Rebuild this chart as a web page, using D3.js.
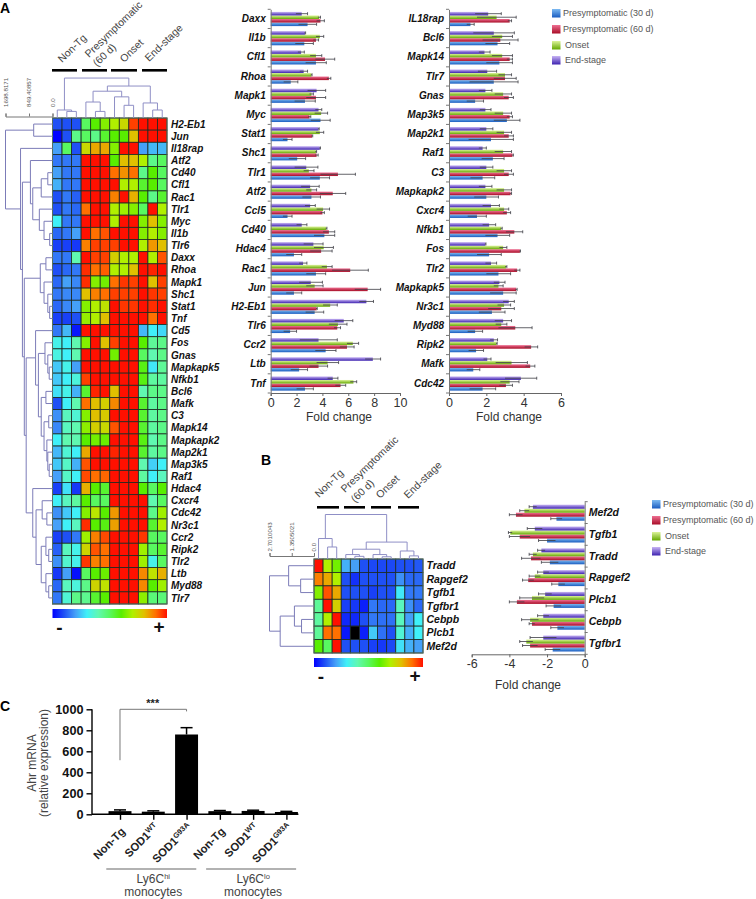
<!DOCTYPE html>
<html><head><meta charset="utf-8">
<script src="https://cdn.jsdelivr.net/npm/d3@7"></script>
<style>html,body{margin:0;padding:0;background:#fff}svg{display:block}text{font-family:"Liberation Sans",Arial,sans-serif}</style>
</head><body><svg id="c" width="756" height="899"></svg>
<script>
// ---------- DATA ----------
const seriesNames=["Presymptomatic (30 d)","Presymptomatic (60 d)","Onset","End-stage"];
const seriesTop=["#7dbaf2","#ee6f92","#dcf39a","#c8b4f4"];
const seriesBottom=["#1a5cc0","#a80c26","#64a800","#3d22b0"];
const heatStops=[0,1,2,3,4,5,6,7,8,9,10];
const heatColors=["#0000ff","#1f50f5","#45a0f8","#40f0f8","#60f8b0","#58f860","#58ee00","#b0f000","#e0c000","#ff7000","#ff1000"];

const groupLabels=["Non-Tg","Presymptomatic","(60 d)","Onset","End-stage"];

const heatGenesA=["H2-Eb1","Jun","Il18rap","Atf2","Cd40","Cfl1","Rac1","Tlr1","Myc","Il1b","Tlr6","Daxx","Rhoa","Mapk1","Shc1","Stat1","Tnf","Cd5","Fos","Gnas","Mapkapk5","Nfkb1","Bcl6","Mafk","C3","Mapk14","Mapkapk2","Map2k1","Map3k5","Raf1","Hdac4","Cxcr4","Cdc42","Nr3c1","Ccr2","Ripk2","Tlr2","Ltb","Myd88","Tlr7"];
const heatA=[
[1,1,1,5,6,6.5,7,7.5,9.5,10,10,10],
[0,1,4.5,5,4.5,5.5,6,6,8,10,10,10],
[2,5,1,7.5,8.3,8.3,6.5,10,10,2,2.3,2.3],
[1.5,1.5,1.5,10,10,10,6,8,8,7,4.5,5],
[2,1.5,1.5,10,10,10,9,8.6,9,4.5,6,5],
[2.2,1.5,1.5,10,10,10,10,7,7,5.5,6,5],
[1,1.5,1.2,10,10,10,8.8,10,8.2,6,4.5,5.5],
[1,1.5,1.3,9,10,10,7,6.8,6.5,5,10,7],
[3,1.5,1.5,10,10,10,7,10,10,6.5,8,6.5],
[1.3,1.5,2,10,9,9.3,10,10,10,6.5,7,6.5],
[0.8,0.8,0.7,8.8,9.5,9.5,9.5,10,10,7,8.5,8],
[1.5,1.5,4,10,9.5,9.5,7.7,7,7,10,7,9.3],
[1,1.3,1.5,9.7,9,9.2,7,7,8,10,9.8,10],
[1.3,2,1.7,9.7,6.5,6.3,9,9.6,9.5,10,8,9.5],
[1.5,1.7,1.7,8,8.8,9,9.5,9.5,9.5,10,9.6,9.5],
[1.3,1.7,2,6.5,7,7.3,10,9.6,9.6,10,9.7,10],
[0.8,0.8,1,6.7,7,8,10,10,10,10,9,10],
[1.5,2.3,0.3,10,10,10,10,10,10,2.3,3,2.7],
[3.2,3,4,6.5,10,8,9.5,10,10,6,4.3,4.5],
[3.3,3,4,10,10,10,6.3,10,10,5,4,4.5],
[2.5,3.2,2,10,10,10,10,10,10,5.8,2.9,4.3],
[2.5,3,3.4,9.5,10,10,10,10,10,5.8,4.2,4.2],
[2.8,3.2,2.2,5.5,9.8,10,8,10,10,4,4.5,4.5],
[1,3,4,9,8,7.7,8.7,10,10,5.5,4.2,4.5],
[1.8,3.8,3.5,6.5,8,7.8,10,10,10,5.5,4.2,4.5],
[1.7,3.8,4,6.6,7.7,7.5,9.3,10,10,5.5,4.2,4.5],
[3,4,4,6,6.3,6.2,10,10,10,5.8,4,4.5],
[2.3,3.5,3,8.3,10,10,9.8,10,10,5.5,4.2,4.5],
[2.5,3.7,2.2,9.3,10,10,10,10,10,4,2.6,3],
[2,3.7,3,9.4,9,9.1,10,10,10,4.2,3,3.8],
[0.8,2.8,0.7,8.2,6,5.5,10,10,10,6,5,6],
[3,3.8,4.2,6,5,5,10,10,10,10,4,5],
[1.8,2.5,3,6.5,7.2,6,8.5,10,10,10,4.5,6.8],
[2,3,3.8,9.7,6,5.8,8.4,10,10,10,5.5,7],
[0.8,1,1.5,6.8,8.8,9.4,10,10,10,9.6,5,5],
[1.2,3.8,3.2,7.6,9.3,9,10,10,10,6.8,5,5.5],
[1.8,3.6,3.2,9.6,8.8,9,10,10,10,6.8,3.2,5],
[0.7,2,0.2,5,6,6.2,10,10,10,8.7,7.3,8.2],
[1.3,3.8,3.4,4.5,7.6,7.3,10,10,10,8.7,6,6.8],
[1.5,3.5,4.5,4.4,5.5,6,10,10,10,6.6,4.7,4.7]];
// dendrograms: [height % of the scale, left, right]; integers are leaves
const colTreeA=[85,[17,0,[14,1,2]],[68,[57,[34,3,[14,4,5]],[45,6,[27,7,8]]],[32,9,[17,10,11]]]];
const rowTreeA=[100,[40,0,1],[68,2,[64,
  [47,3,[42,[24,[10,4,5],6],[28,7,[18,8,[6,9,10]]]]],
  [60,[26,[14,11,12],[18,13,[10,14,[6,15,16]]]],
    [56,[36,17,[30,[16,18,[10,19,[7,20,21]]],[24,[14,22,23],[18,[8,24,25],[12,26,[10,27,[7,28,29]]]]]]],
        [42,30,[35,[22,31,[12,32,33]],[24,[14,34,[8,35,36]],[14,37,[8,38,39]]]]]]]]]];
const axisTicksA=[1698.8171,849.40857,0];
const axisLabelsA=["1698.8171","849.40857","0.0"];

const heatGenesB=["Tradd","Rapgef2","Tgfb1","Tgfbr1","Cebpb","Plcb1","Mef2d"];
const heatB=[
[10,7,6.3,2.2,2,1,0.9,0.9,0.9,1,1,1.1],
[8.8,8.3,7,1,0.6,1,1,1,1,1.8,1.3,1.3],
[6.5,9.3,8.3,1,1,1,0.8,1,1,2.9,1.5,1.5],
[4.3,10,7.7,0.8,0.7,0.4,1.5,1.3,1.3,3.8,1.8,1.3],
[4.2,7,10,0.5,0.5,1,1.5,1.4,1.4,3.8,2,3],
[4.3,9,9,0.3,null,0.4,2.5,1.4,1,3.5,2.2,3],
[6,5,10,1,1,1,0.8,0.7,0.9,2.8,2.2,2]];
const colTreeB=[100,[46,0,[27,1,2]],[38,[22,[10,3,[6,4,5]],[10,6,[5,7,8]]],[18,9,[7,10,11]]]];
const rowTreeB=[100,[57,0,[30,1,2]],[76,[44,3,[28,4,5]],6]];
const axisTicksB=[2.7010043,1.3505021,0];
const axisLabelsB=["2.7010043","1.3505021","0.0"];

const genes1=["Daxx","Il1b","Cfl1","Rhoa","Mapk1","Myc","Stat1","Shc1","Tlr1","Atf2","Ccl5","Cd40","Hdac4","Rac1","Jun","H2-Eb1","Tlr6","Ccr2","Ltb","Tnf"];
const v1d30=[2.85,2.6,3.5,1.55,2.65,3.85,1.3,2.05,3.8,3.15,1.3,4.15,1.8,3.5,1.8,3.4,1.5,4.25,2.2,2.65];
const e1d30=[0.7,0.7,0.8,0.55,0.8,0.75,0.35,0.65,0.75,0.7,0.35,0.8,0.6,0.75,0.6,0.7,0.5,0.8,0.65,0.65];
const v1d60=[3.85,3.5,4.2,4.5,3.5,3.0,3.2,3.55,5.2,4.8,4.0,4.5,3.9,6.15,7.5,3.55,5.15,5.9,3.7,5.4];
const e1d60=[0.3,0.2,0.75,0.15,0.75,0.1,0.05,0.12,1.35,1.0,0.15,0.45,0.85,1.4,1.0,0.05,0.25,0.55,0.7,0.4];
const v1on=[3.75,3.8,3.5,3.15,3.15,3.9,3.8,3.5,2.95,3.15,4.05,4.3,4.1,4.35,3.4,4.6,5.2,6.35,4.4,6.4];
const e1on=[0.1,0.3,0.45,0.05,0.15,0.5,0.3,0.05,0.4,0.4,0.5,0.05,0.75,0.4,0.65,0.55,0.7,0.45,0.85,0.25];
const v1end=[2.4,2.65,2.35,2.55,3.55,3.7,3.7,3.8,2.75,3.05,3.05,2.4,3.3,2.5,3.1,7.4,5.65,3.7,7.9,4.8];
const e1end=[0.45,0.05,0.25,0.3,0.7,0.25,0.05,0.05,0.9,0.7,0.4,0.4,0.75,0.3,0.9,0.55,0.7,1.45,0.6,0.4];

const genes2=["IL18rap","Bcl6","Mapk14","Tlr7","Gnas","Map3k5","Map2k1","Raf1","C3","Mapkapk2","Cxcr4","Nfkb1","Fos","Tlr2","Mapkapk5","Nr3c1","Myd88","Ripk2","Mafk","Cdc42"];
const v2d30=[1.15,2.6,2.7,2.4,1.4,3.1,2.25,2.35,1.8,2.0,1.5,2.6,2.15,2.65,2.9,2.3,1.4,1.45,1.3,1.8];
const e2d30=[0.2,0.65,0.7,1.3,0.45,0.7,1.2,0.6,0.65,0.65,0.5,0.65,0.65,0.65,0.7,0.7,0.4,0.4,0.35,0.7];
const v2d60=[3.25,2.75,3.25,3.0,3.2,3.25,3.2,3.4,3.2,3.3,3.1,3.5,3.8,3.65,3.6,2.8,3.55,4.4,4.35,3.05];
const e2d60=[0.1,0.95,0.15,0.6,0.25,0.15,0.25,0.05,0.25,0.05,0.2,0.45,0.03,0.15,0.05,0.7,0.9,0.35,0.25,0.35];
const v2on=[2.55,2.85,2.85,3.0,2.9,2.9,2.95,2.9,2.95,2.95,2.95,2.8,2.9,3.05,2.65,2.95,2.8,2.55,3.35,3.25];
const e2on=[1.05,0.55,0.55,0.35,0.45,0.45,0.4,0.45,0.4,0.4,0.25,0.05,0.2,0.05,0.25,0.35,0.3,0.03,0.85,0.5];
const v2end=[2.1,2.4,1.9,2.05,1.95,1.95,2.0,1.8,2.0,1.95,2.25,2.15,1.95,2.25,2.7,3.2,2.9,2.4,2.05,3.85];
const e2end=[0.7,1.1,0.3,0.5,0.35,0.3,0.35,0.2,0.35,0.35,0.45,0.35,0.03,0.3,0.3,0.3,0.45,0.2,0.2,0.85];

const genes3=["Mef2d","Tgfb1","Tradd","Rapgef2","Plcb1","Cebpb","Tgfbr1"];
const v3d30=[-1.5,-2.0,-1.85,-1.4,-1.65,-1.45,-1.7];
const e3d30=[0.3,0.45,0.45,0.35,0.4,0.35,0.4];
const v3d60=[-3.65,-3.45,-2.85,-3.0,-3.6,-2.8,-2.9];
const e3d60=[0.35,0.55,0.5,0.3,0.4,0.15,0.4];
const v3on=[-3.2,-3.95,-2.75,-2.65,-2.8,-2.9,-3.1];
const e3on=[0.25,0.1,0.2,0.3,0.65,0.45,0.35];
const v3end=[-2.75,-2.65,-2.3,-2.2,-2.1,-2.2,-2.2];
const e3end=[0.2,0.4,0.2,0.3,0.35,0.3,0.7];

const ahrCats=["Non-Tg","SOD1|WT","SOD1|G93A","Non-Tg","SOD1|WT","SOD1|G93A"];
const ahrVals=[30,25,760,30,32,22];
const ahrErrs=[12,8,65,6,7,6];
const ahrGroups=["hi","lo"];

// ---------- DRAW ----------
const svg=d3.select("#c");
const defs=svg.append("defs");
seriesNames.forEach((s,i)=>{
  const g=defs.append("linearGradient").attr("id","bar"+i).attr("x1",0).attr("y1",0).attr("x2",0).attr("y2",1);
  g.append("stop").attr("offset","0%").attr("stop-color",seriesTop[i]);
  g.append("stop").attr("offset","100%").attr("stop-color",seriesBottom[i]);
});
const heatColor=d3.scaleLinear().domain(heatStops).range(heatColors);
const barGrad=defs.append("linearGradient").attr("id","heatbar");
heatStops.forEach(s=>barGrad.append("stop").attr("offset",s*10+"%").attr("stop-color",heatColor(s)));

function txt(g,x,y,s,o={}){
  const t=g.append("text").attr("x",x).attr("y",y).text(s)
   .attr("font-size",o.size||11).attr("fill",o.fill||"#333")
   .attr("text-anchor",o.anchor||"start");
  if(o.bold)t.attr("font-weight","bold");
  if(o.italic)t.attr("font-style","italic");
  if(o.rot!==undefined)t.attr("transform",`rotate(${o.rot} ${x} ${y})`);
  return t;
}
function layoutTree(node,out){
  if(typeof node==="number")return {pos:node,h:0};
  const a=layoutTree(node[1],out),b=layoutTree(node[2],out);
  out.push({h:node[0],a,b});
  return {pos:(a.pos+b.pos)/2,h:node[0]};
}
function drawTree(g,tree,leafPos,hPx,vertical,color){
  const segs=[];layoutTree(tree,segs);
  const path=d3.path();
  segs.forEach(s=>{
    const pa=leafPos(s.a.pos),pb=leafPos(s.b.pos),h=hPx(s.h),ha=hPx(s.a.h),hb=hPx(s.b.h);
    if(vertical){path.moveTo(pa,ha);path.lineTo(pa,h);path.lineTo(pb,h);path.lineTo(pb,hb);}
    else{path.moveTo(ha,pa);path.lineTo(h,pa);path.lineTo(h,pb);path.lineTo(hb,pb);}
  });
  g.append("path").attr("d",path.toString()).attr("fill","none").attr("stroke",color).attr("stroke-width",1);
}
function heatmap(cfg){
  const g=svg.append("g");
  const x=d3.scaleBand().domain(d3.range(12)).range([cfg.x0,cfg.x1]);
  const y=d3.scaleBand().domain(d3.range(cfg.genes.length)).range([cfg.y0,cfg.y1]);
  cfg.matrix.forEach((row,r)=>{
    g.selectAll(null).data(row).enter().append("rect")
     .attr("x",(d,i)=>x(i)).attr("y",y(r)).attr("width",x.bandwidth()).attr("height",y.bandwidth())
     .attr("fill",d=>d===null?"#000":heatColor(d)).attr("stroke","#1c2a22").attr("stroke-width",0.8);
  });
  g.append("rect").attr("x",cfg.x0).attr("y",cfg.y0).attr("width",cfg.x1-cfg.x0).attr("height",cfg.y1-cfg.y0)
   .attr("fill","none").attr("stroke","#557060").attr("stroke-width",1);
  g.selectAll(null).data(cfg.genes).enter().append("text")
   .attr("x",cfg.x1+cfg.labelGap).attr("y",(d,i)=>y(i)+y.bandwidth()/2+3.6).text(d=>d)
   .attr("font-size",cfg.labelSize).attr("font-weight","bold").attr("font-style","italic").attr("fill","#111");
  // dendrograms
  const pct=d3.scaleLinear().domain([0,100]).range([0,cfg.treeLen]);
  const lx=i=>x(0)+x.bandwidth()*(i+0.5), ly=i=>y(0)+y.bandwidth()*(i+0.5);
  drawTree(g,cfg.colTree,lx,h=>cfg.y0-pct(h),true,"#8f8fc6");
  drawTree(g,cfg.rowTree,ly,h=>cfg.x0-pct(h),false,"#7c7cb8");
  // dendrogram scale
  const sc=d3.scaleLinear().domain([cfg.ticks[0],0]).range([cfg.x0-cfg.treeLen,cfg.x0]);
  const ax=g.append("g").attr("transform",`translate(0,${cfg.y0-cfg.axisOff})`)
    .call(d3.axisTop(sc).tickValues(cfg.ticks).tickSize(3).tickFormat((d,i)=>cfg.tickLabels[i]));
  ax.selectAll("path,line").attr("stroke","#777");
  ax.selectAll("text").attr("font-size",6.2).attr("fill","#555").attr("font-family","'Liberation Sans'")
    .attr("text-anchor","start").attr("transform","rotate(-90)").attr("x",cfg.tickLabelOff).attr("y",0).attr("dy","0.32em");
  // colour bar
  g.append("rect").attr("x",cfg.x0).attr("y",cfg.barY).attr("width",cfg.x1-cfg.x0).attr("height",cfg.barH).attr("fill","url(#heatbar)");
  txt(g,cfg.x0+7,cfg.barY+cfg.barH+16,"-",{anchor:"middle",size:19,bold:true,fill:"#111"});
  txt(g,cfg.x1-8,cfg.barY+cfg.barH+15,"+",{anchor:"middle",size:19,bold:true,fill:"#111"});
  // group bars
  cfg.groupBars.forEach(b=>g.append("rect").attr("x",b[0]).attr("y",cfg.groupY).attr("width",b[1]-b[0]).attr("height",2.6).attr("fill","#000"));
  cfg.groupText.forEach((s,i)=>txt(g,cfg.groupPos[i][0],cfg.groupPos[i][1],s,{rot:-44,size:cfg.groupSize,fill:"#444"}));
}
function hBars(cfg){
  const g=svg.append("g");
  const x=d3.scaleLinear().domain(cfg.domain).range(cfg.xr);
  const y=d3.scaleBand().domain(cfg.genes).range(cfg.yr);
  const inner=d3.scaleBand().domain([3,2,1,0]).range(cfg.inner);
  const zero=x(0);
  cfg.values.forEach((vals,s)=>{
    g.selectAll(null).data(vals).enter().append("rect")
     .attr("x",d=>Math.min(x(d),zero)).attr("width",d=>Math.abs(x(d)-zero))
     .attr("y",(d,i)=>y(cfg.genes[i])+inner(s)).attr("height",inner.bandwidth())
     .attr("fill",`url(#bar${s})`);
    const ey=i=>y(cfg.genes[i])+inner(s)+inner.bandwidth()/2;
    const dir=cfg.domain[0]<0?-1:1;
    g.selectAll(null).data(vals).enter().append("line")
     .attr("x1",(d,i)=>x(d-dir*cfg.errs[s][i])).attr("x2",(d,i)=>x(d+dir*cfg.errs[s][i]))
     .attr("y1",(d,i)=>ey(i)).attr("y2",(d,i)=>ey(i)).attr("stroke","#3c3c44").attr("stroke-width",0.8);
    g.selectAll(null).data(vals).enter().append("line")
     .attr("x1",(d,i)=>x(d+dir*cfg.errs[s][i])).attr("x2",(d,i)=>x(d+dir*cfg.errs[s][i]))
     .attr("y1",(d,i)=>ey(i)-1.5).attr("y2",(d,i)=>ey(i)+1.5).attr("stroke","#3c3c44").attr("stroke-width",0.8);
  });
  const axX=g.append("g").attr("transform",`translate(0,${cfg.yr[1]})`)
     .call(d3.axisBottom(x).tickValues(cfg.ticks).tickSize(3).tickPadding(2).tickFormat(d3.format("d")));
  axX.selectAll("path,line").attr("stroke","#666");
  axX.selectAll("text").attr("font-size",12.5).attr("fill","#333").attr("font-family","'Liberation Sans'")
     .text(d=>d<0?"-"+Math.abs(d):d);
  const axG=g.append("g").attr("transform",`translate(${zero},0)`);
  const axY=cfg.domain[0]<0?d3.axisRight(y):d3.axisLeft(y);
  axG.call(axY.tickSize(0).tickPadding(cfg.labelPad));
  axG.select("path").attr("stroke","#777");
  axG.selectAll("text").attr("font-size",cfg.labelSize).attr("font-weight","bold").attr("font-style","italic").attr("fill","#111").attr("font-family","'Liberation Sans'");
  const side=cfg.domain[0]<0?3:-3;
  const edges=cfg.genes.map(d=>y(d)).concat([cfg.yr[1]]);
  g.selectAll(null).data(edges).enter().append("line")
   .attr("x1",zero).attr("x2",zero+side).attr("y1",d=>d).attr("y2",d=>d).attr("stroke","#777");
  txt(g,cfg.titleX,cfg.titleY,"Fold change",{anchor:"middle",size:12,fill:"#333"});
}
function legend(x,text0,ys,offs){
  const g=svg.append("g");
  seriesNames.forEach((s,i)=>{
    g.append("rect").attr("x",x).attr("y",ys[i]-4).attr("width",8.5).attr("height",8.5).attr("fill",`url(#bar${i})`);
    txt(g,x+offs[i],ys[i]+3.3,s,{size:9,fill:"#555"});
  });
}

// panel letters
txt(svg,0,13,"A",{size:14,bold:true,fill:"#000"});
txt(svg,261,465,"B",{size:14,bold:true,fill:"#000"});
txt(svg,0,711,"C",{size:14,bold:true,fill:"#000"});

heatmap({genes:heatGenesA,matrix:heatA,colTree:colTreeA,rowTree:rowTreeA,ticks:axisTicksA,tickLabels:axisLabelsA,tickLabelOff:9.5,
  x0:52.5,x1:167,y0:118,y1:604,labelGap:4,labelSize:10,treeLen:47,axisOff:1.5,barY:609,barH:9,
  groupBars:[[52,77],[82,107],[111,137],[142,167]],groupY:69,
  groupText:groupLabels,groupPos:[[62,63],[89,58],[97,67],[124,63],[149,62]],groupSize:10.5});
heatmap({genes:heatGenesB,matrix:heatB,colTree:colTreeB,rowTree:rowTreeB,ticks:axisTicksB,tickLabels:axisLabelsB,tickLabelOff:4.5,
  x0:314,x1:423,y0:559,y1:653,labelGap:3.5,labelSize:10.5,treeLen:44.5,axisOff:3,barY:658,barH:9,
  groupBars:[[317,339],[344,365],[371,391],[398,419]],groupY:506,
  groupText:groupLabels,groupPos:[[319,498],[345,493],[355,503],[380,499],[408,499]],groupSize:10.5});

hBars({genes:genes1,values:[v1d30,v1d60,v1on,v1end],errs:[e1d30,e1d60,e1on,e1end],domain:[0,10],xr:[270.7,400],yr:[9.3,393],
  inner:[2.6,16.8],ticks:[0,2,4,6,8,10],labelPad:5,labelSize:10,titleX:339,titleY:421});
hBars({genes:genes2,values:[v2d30,v2d60,v2on,v2end],errs:[e2d30,e2d60,e2on,e2end],domain:[0,6],xr:[449,561],yr:[9.3,393],
  inner:[2.6,16.8],ticks:[0,2,4,6],labelPad:5,labelSize:10,titleX:509,titleY:421});
hBars({genes:genes3,values:[v3d30,v3d60,v3on,v3end],errs:[e3d30,e3d60,e3on,e3end],domain:[-6,0],xr:[471.7,584.7],yr:[501.7,654.3],
  inner:[3,19],ticks:[-6,-4,-2,0],labelPad:4,labelSize:10.5,titleX:528,titleY:689});

legend(552,0,[13,29,45,60],[11,11,13,13]);
legend(652,0,[504,520,536,551],[11,11,13,13]);

// Panel C
(function(){
  const g=svg.append("g");
  const y=d3.scaleLinear().domain([0,1000]).range([814.3,709.3]);
  const x=d3.scaleBand().domain(d3.range(ahrVals.length)).range([98.2,308.2]).padding(0.31);
  g.selectAll(null).data(ahrVals).enter().append("rect")
   .attr("x",(d,i)=>x(i)).attr("width",x.bandwidth()).attr("y",d=>y(d)).attr("height",d=>y(0)-y(d)).attr("fill","#000");
  g.selectAll(null).data(ahrVals).enter().append("line")
   .attr("x1",(d,i)=>x(i)+x.bandwidth()/2).attr("x2",(d,i)=>x(i)+x.bandwidth()/2)
   .attr("y1",d=>y(d)).attr("y2",(d,i)=>y(d+ahrErrs[i])).attr("stroke","#000").attr("stroke-width",1.5);
  g.selectAll(null).data(ahrVals).enter().append("line")
   .attr("x1",(d,i)=>x(i)+x.bandwidth()/2-6).attr("x2",(d,i)=>x(i)+x.bandwidth()/2+6)
   .attr("y1",(d,i)=>y(d+ahrErrs[i])).attr("y2",(d,i)=>y(d+ahrErrs[i])).attr("stroke","#000").attr("stroke-width",1.5);
  const ay=g.append("g").attr("transform","translate(92,0)")
    .call(d3.axisLeft(y).tickValues([0,200,400,600,800,1000]).tickSize(5.5).tickPadding(3).tickFormat(d3.format("d")));
  ay.selectAll("path,line").attr("stroke","#000").attr("stroke-width",1.4);
  ay.select("path").attr("d","M-0,709.3V814.3");
  ay.selectAll("text").attr("font-size",12.7).attr("font-weight","bold").attr("fill","#111").attr("font-family","'Liberation Sans'");
  const ax=g.append("g").attr("transform",`translate(0,${y(0)})`)
    .call(d3.axisBottom(d3.scaleLinear().domain([0,5]).range([x(0)+x.bandwidth()/2,x(5)+x.bandwidth()/2])).ticks(6).tickSize(5.5).tickFormat(""));
  ax.selectAll("line").attr("stroke","#000").attr("stroke-width",1.4);
  ax.select("path").attr("stroke","#000").attr("stroke-width",1.4).attr("d",`M92,0H${x(5)+x.bandwidth()/2+12}`);
  ahrCats.forEach((c,i)=>{
    const parts=c.split("|");
    const px=x(i)+x.bandwidth()/2+6, py=parts[1]?828:832;
    const t=g.append("text").attr("transform",`translate(${px},${py}) rotate(-45)`).attr("text-anchor","end")
      .attr("font-size",11.3).attr("font-weight","bold").attr("fill","#222");
    t.append("tspan").text(parts[0]);
    if(parts[1])t.append("tspan").text(parts[1]).attr("font-size",7.5).attr("dy",-4);
  });
  // significance bracket
  const mx=i=>x(i)+x.bandwidth()/2;
  const br=d3.path();br.moveTo(mx(0),y(515));br.lineTo(mx(0),y(1000));br.lineTo(mx(2),y(1000));br.lineTo(mx(2),y(980));
  g.append("path").attr("d",br.toString()).attr("fill","none").attr("stroke","#777").attr("stroke-width",1);
  txt(g,(mx(0)+mx(2))/2-0.5,707,"***",{anchor:"middle",size:11,bold:true,fill:"#222"});
  // groups
  ahrGroups.forEach((s,i)=>{
    const a=i*3, cx=mx(a+1);
    g.append("line").attr("x1",cx-47).attr("x2",cx+43).attr("y1",869).attr("y2",869).attr("stroke","#666").attr("stroke-width",1.2);
    const t=g.append("text").attr("x",cx).attr("y",883).attr("text-anchor","middle").attr("font-size",12).attr("fill","#444");
    t.append("tspan").text("Ly6C");
    t.append("tspan").text(s).attr("font-size",7.5).attr("dy",-4);
    txt(g,cx,896,"monocytes",{anchor:"middle",size:12,fill:"#444"});
  });
  txt(g,36,763,"Ahr mRNA",{anchor:"middle",size:12,rot:-90,fill:"#444"});
  txt(g,48,763,"(relative expression)",{anchor:"middle",size:12,rot:-90,fill:"#444"});
})();
</script></body></html>
